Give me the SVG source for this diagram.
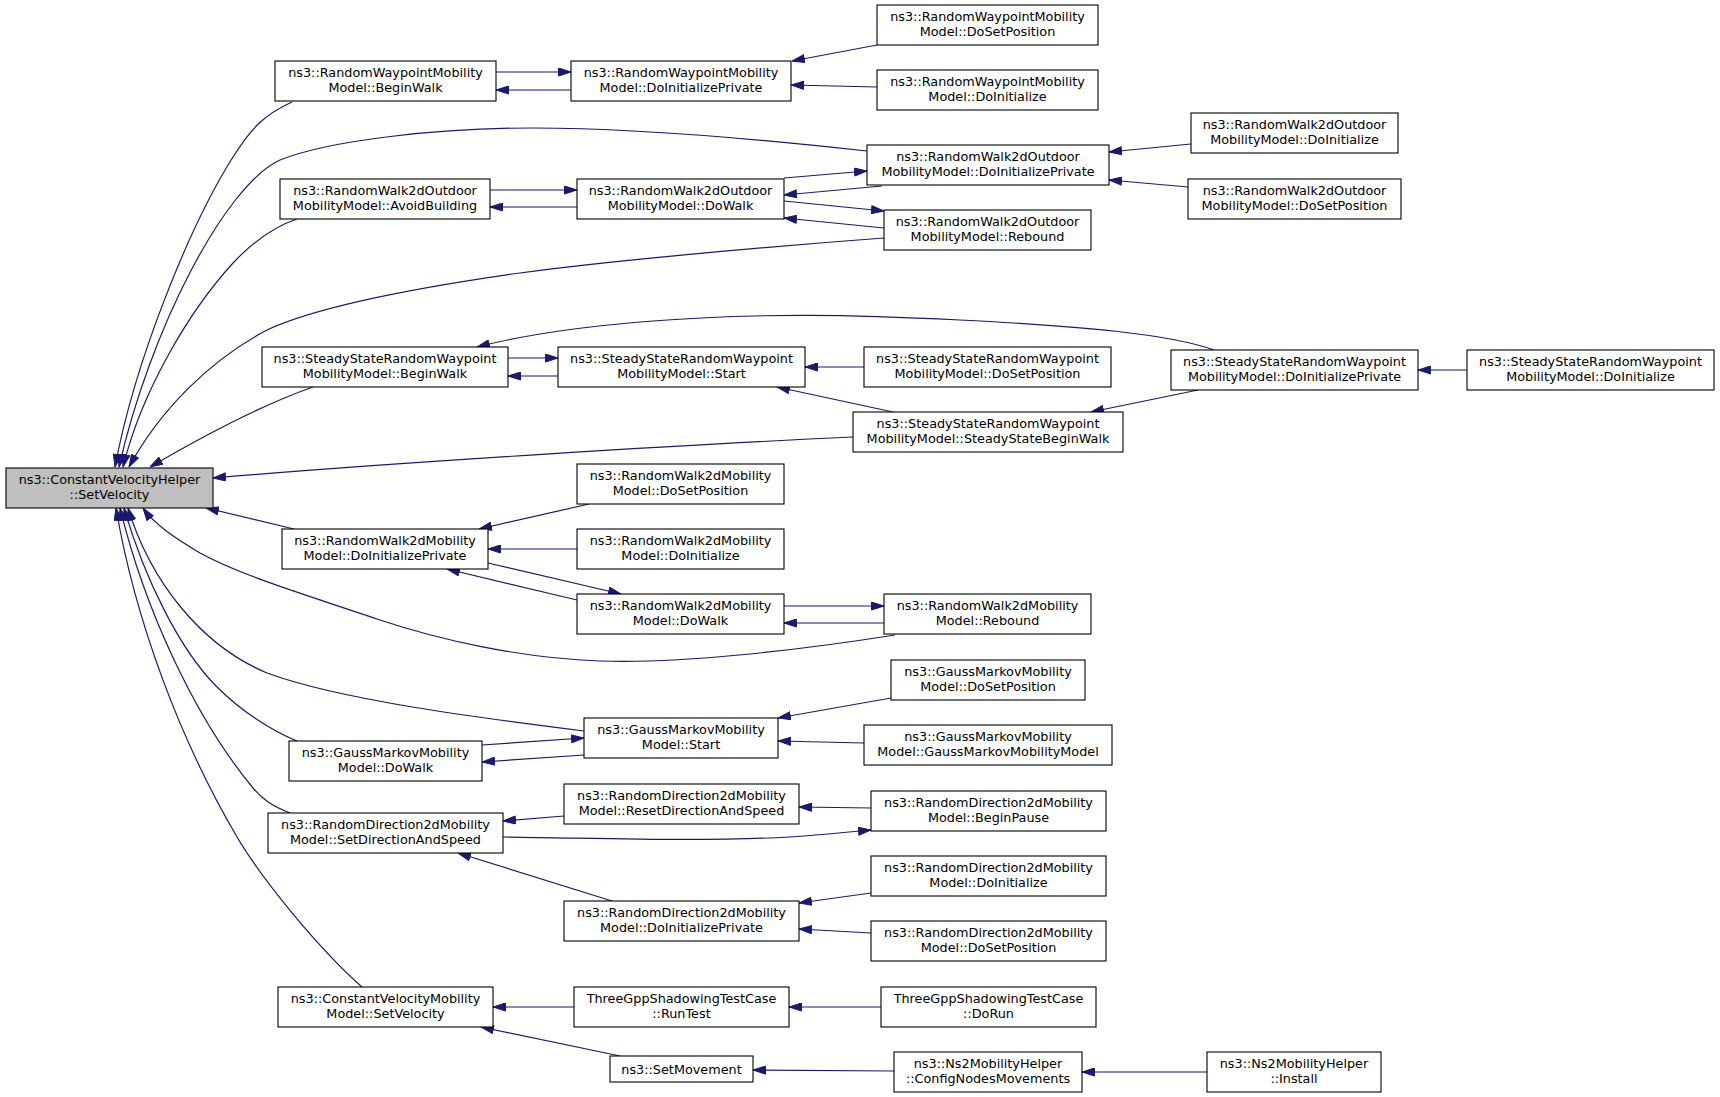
<svg xmlns="http://www.w3.org/2000/svg" width="1720" height="1097" viewBox="0 0 1720 1097">
<style>
.node rect{fill:#ffffff;stroke:#000000;stroke-width:1.1}
.node.main rect{fill:#bfbfbf}
.node text{font-family:"DejaVu Sans","Liberation Sans",sans-serif;font-size:12.8px;text-anchor:middle;fill:#000000}
.edges path{fill:none;stroke:#191970;stroke-width:1.2;marker-end:url(#ah)}
</style>
<defs>
<marker id="ah" viewBox="0 0 13 9" refX="13" refY="4.5" markerWidth="13" markerHeight="9" markerUnits="userSpaceOnUse" orient="auto"><path d="M0.5,0.5 L13,4.5 L0.5,8.5 z" fill="#191970" stroke="#191970" stroke-width="1"/></marker>
</defs>
<rect x="0" y="0" width="1720" height="1097" fill="#ffffff"/>
<g id="connectors" class="edges">
<path d="M292,102 C263,115 250,130 233,157 C190,225 135,360 115,467"/>
<path d="M867,151 C740,137 620,128 533,128 C440,128 330,140 280,160 C225,185 150,330 119,467"/>
<path d="M297,219 C270,228 250,245 233,263 C190,310 142,390 123,467"/>
<path d="M884,238 C750,248 600,262 520,273 C400,290 310,310 267,330 C210,360 160,410 129,467"/>
<path d="M313,387 C270,402 210,432 150,467"/>
<path d="M853,437 C700,444 400,462 213,478"/>
<path d="M294,529 L206,508"/>
<path d="M895,635 C800,650 680,664 600,661 C520,658 440,640 380,620 C300,593 240,575 200,553 C175,538 155,525 143,508"/>
<path d="M584,731 C480,718 340,700 267,673 C200,645 150,580 128,508"/>
<path d="M297,741 C270,730 240,710 217,687 C180,650 145,580 124,508"/>
<path d="M290,813 C272,806 262,799 253,788 C195,718 145,610 120,508"/>
<path d="M362,987 C320,950 263,881 237,837 C180,740 135,620 116,508"/>
<path d="M496,72 L571,72"/>
<path d="M571,90 L496,90"/>
<path d="M877,45 L792,61"/>
<path d="M877,87 L791,85"/>
<path d="M490,190 L577,190"/>
<path d="M577,207 L490,207"/>
<path d="M784,178 L867,171"/>
<path d="M882,186 L784,195"/>
<path d="M784,201 L884,211"/>
<path d="M884,228 L784,218"/>
<path d="M1191,144 L1109,152"/>
<path d="M1188,187 L1109,180"/>
<path d="M508,358 L558,358"/>
<path d="M558,376 L508,376"/>
<path d="M1214,350 C1170,334 1080,326 960,320 C860,315 760,312 640,322 C580,327 520,336 477,347"/>
<path d="M864,367 L805,367"/>
<path d="M893,412 L777,387"/>
<path d="M1198,390 L1091,412"/>
<path d="M1467,370 L1418,370"/>
<path d="M589,504 L479,529"/>
<path d="M577,549 L488,549"/>
<path d="M488,563 L621,594"/>
<path d="M577,600 L447,569"/>
<path d="M784,606 L884,606"/>
<path d="M884,623 L784,623"/>
<path d="M482,745 L584,738"/>
<path d="M584,755 L482,762"/>
<path d="M891,698 L778,718"/>
<path d="M864,743 L778,741"/>
<path d="M564,816 L503,821"/>
<path d="M503,837 C600,838 700,842 790,837 C820,835 850,832 871,830"/>
<path d="M871,808 L799,807"/>
<path d="M612,901 L458,853"/>
<path d="M871,893 L799,903"/>
<path d="M871,933 L799,929"/>
<path d="M574,1007 L493,1007"/>
<path d="M881,1007 L789,1007"/>
<path d="M620,1056 L481,1027"/>
<path d="M894,1071 L753,1070"/>
<path d="M1207,1072 L1082,1072"/>
</g>
<g id="n0" class="node main"><rect x="6" y="468" width="207" height="40"/><text x="109.5" y="484">ns3::ConstantVelocityHelper<tspan x="109.5" dy="15">::SetVelocity</tspan></text></g>
<g id="n1" class="node"><rect x="275" y="61" width="221" height="40"/><text x="385.5" y="77">ns3::RandomWaypointMobility<tspan x="385.5" dy="15">Model::BeginWalk</tspan></text></g>
<g id="n2" class="node"><rect x="571" y="61" width="220" height="40"/><text x="681" y="77">ns3::RandomWaypointMobility<tspan x="681" dy="15">Model::DoInitializePrivate</tspan></text></g>
<g id="n3" class="node"><rect x="877" y="5" width="221" height="40"/><text x="987.5" y="21">ns3::RandomWaypointMobility<tspan x="987.5" dy="15">Model::DoSetPosition</tspan></text></g>
<g id="n4" class="node"><rect x="877" y="70" width="221" height="40"/><text x="987.5" y="86">ns3::RandomWaypointMobility<tspan x="987.5" dy="15">Model::DoInitialize</tspan></text></g>
<g id="n5" class="node"><rect x="867" y="145" width="242" height="40"/><text x="988" y="161">ns3::RandomWalk2dOutdoor<tspan x="988" dy="15">MobilityModel::DoInitializePrivate</tspan></text></g>
<g id="n6" class="node"><rect x="577" y="179" width="207" height="40"/><text x="680.5" y="195">ns3::RandomWalk2dOutdoor<tspan x="680.5" dy="15">MobilityModel::DoWalk</tspan></text></g>
<g id="n7" class="node"><rect x="280" y="179" width="210" height="40"/><text x="385" y="195">ns3::RandomWalk2dOutdoor<tspan x="385" dy="15">MobilityModel::AvoidBuilding</tspan></text></g>
<g id="n8" class="node"><rect x="884" y="210" width="207" height="40"/><text x="987.5" y="226">ns3::RandomWalk2dOutdoor<tspan x="987.5" dy="15">MobilityModel::Rebound</tspan></text></g>
<g id="n9" class="node"><rect x="1191" y="113" width="207" height="40"/><text x="1294.5" y="129">ns3::RandomWalk2dOutdoor<tspan x="1294.5" dy="15">MobilityModel::DoInitialize</tspan></text></g>
<g id="n10" class="node"><rect x="1188" y="179" width="213" height="40"/><text x="1294.5" y="195">ns3::RandomWalk2dOutdoor<tspan x="1294.5" dy="15">MobilityModel::DoSetPosition</tspan></text></g>
<g id="n11" class="node"><rect x="262" y="347" width="246" height="40"/><text x="385" y="363">ns3::SteadyStateRandomWaypoint<tspan x="385" dy="15">MobilityModel::BeginWalk</tspan></text></g>
<g id="n12" class="node"><rect x="558" y="347" width="247" height="40"/><text x="681.5" y="363">ns3::SteadyStateRandomWaypoint<tspan x="681.5" dy="15">MobilityModel::Start</tspan></text></g>
<g id="n13" class="node"><rect x="864" y="347" width="247" height="40"/><text x="987.5" y="363">ns3::SteadyStateRandomWaypoint<tspan x="987.5" dy="15">MobilityModel::DoSetPosition</tspan></text></g>
<g id="n14" class="node"><rect x="1171" y="350" width="247" height="40"/><text x="1294.5" y="366">ns3::SteadyStateRandomWaypoint<tspan x="1294.5" dy="15">MobilityModel::DoInitializePrivate</tspan></text></g>
<g id="n15" class="node"><rect x="1467" y="350" width="247" height="40"/><text x="1590.5" y="366">ns3::SteadyStateRandomWaypoint<tspan x="1590.5" dy="15">MobilityModel::DoInitialize</tspan></text></g>
<g id="n16" class="node"><rect x="853" y="412" width="270" height="40"/><text x="988" y="428">ns3::SteadyStateRandomWaypoint<tspan x="988" dy="15">MobilityModel::SteadyStateBeginWalk</tspan></text></g>
<g id="n17" class="node"><rect x="282" y="529" width="206" height="40"/><text x="385" y="545">ns3::RandomWalk2dMobility<tspan x="385" dy="15">Model::DoInitializePrivate</tspan></text></g>
<g id="n18" class="node"><rect x="577" y="464" width="207" height="40"/><text x="680.5" y="480">ns3::RandomWalk2dMobility<tspan x="680.5" dy="15">Model::DoSetPosition</tspan></text></g>
<g id="n19" class="node"><rect x="577" y="529" width="207" height="40"/><text x="680.5" y="545">ns3::RandomWalk2dMobility<tspan x="680.5" dy="15">Model::DoInitialize</tspan></text></g>
<g id="n20" class="node"><rect x="577" y="594" width="207" height="40"/><text x="680.5" y="610">ns3::RandomWalk2dMobility<tspan x="680.5" dy="15">Model::DoWalk</tspan></text></g>
<g id="n21" class="node"><rect x="884" y="594" width="207" height="40"/><text x="987.5" y="610">ns3::RandomWalk2dMobility<tspan x="987.5" dy="15">Model::Rebound</tspan></text></g>
<g id="n22" class="node"><rect x="891" y="660" width="194" height="40"/><text x="988" y="676">ns3::GaussMarkovMobility<tspan x="988" dy="15">Model::DoSetPosition</tspan></text></g>
<g id="n23" class="node"><rect x="584" y="718" width="194" height="40"/><text x="681" y="734">ns3::GaussMarkovMobility<tspan x="681" dy="15">Model::Start</tspan></text></g>
<g id="n24" class="node"><rect x="864" y="725" width="248" height="40"/><text x="988" y="741">ns3::GaussMarkovMobility<tspan x="988" dy="15">Model::GaussMarkovMobilityModel</tspan></text></g>
<g id="n25" class="node"><rect x="289" y="741" width="193" height="40"/><text x="385.5" y="757">ns3::GaussMarkovMobility<tspan x="385.5" dy="15">Model::DoWalk</tspan></text></g>
<g id="n26" class="node"><rect x="268" y="813" width="235" height="40"/><text x="385.5" y="829">ns3::RandomDirection2dMobility<tspan x="385.5" dy="15">Model::SetDirectionAndSpeed</tspan></text></g>
<g id="n27" class="node"><rect x="564" y="784" width="235" height="40"/><text x="681.5" y="800">ns3::RandomDirection2dMobility<tspan x="681.5" dy="15">Model::ResetDirectionAndSpeed</tspan></text></g>
<g id="n28" class="node"><rect x="871" y="791" width="235" height="40"/><text x="988.5" y="807">ns3::RandomDirection2dMobility<tspan x="988.5" dy="15">Model::BeginPause</tspan></text></g>
<g id="n29" class="node"><rect x="871" y="856" width="235" height="40"/><text x="988.5" y="872">ns3::RandomDirection2dMobility<tspan x="988.5" dy="15">Model::DoInitialize</tspan></text></g>
<g id="n30" class="node"><rect x="564" y="901" width="235" height="40"/><text x="681.5" y="917">ns3::RandomDirection2dMobility<tspan x="681.5" dy="15">Model::DoInitializePrivate</tspan></text></g>
<g id="n31" class="node"><rect x="871" y="921" width="235" height="40"/><text x="988.5" y="937">ns3::RandomDirection2dMobility<tspan x="988.5" dy="15">Model::DoSetPosition</tspan></text></g>
<g id="n32" class="node"><rect x="278" y="987" width="215" height="40"/><text x="385.5" y="1003">ns3::ConstantVelocityMobility<tspan x="385.5" dy="15">Model::SetVelocity</tspan></text></g>
<g id="n33" class="node"><rect x="574" y="987" width="215" height="40"/><text x="681.5" y="1003">ThreeGppShadowingTestCase<tspan x="681.5" dy="15">::RunTest</tspan></text></g>
<g id="n34" class="node"><rect x="881" y="987" width="215" height="40"/><text x="988.5" y="1003">ThreeGppShadowingTestCase<tspan x="988.5" dy="15">::DoRun</tspan></text></g>
<g id="n35" class="node"><rect x="610" y="1056" width="143" height="26"/><text x="681.5" y="1073.5">ns3::SetMovement</text></g>
<g id="n36" class="node"><rect x="894" y="1052" width="188" height="40"/><text x="988" y="1068">ns3::Ns2MobilityHelper<tspan x="988" dy="15">::ConfigNodesMovements</tspan></text></g>
<g id="n37" class="node"><rect x="1207" y="1052" width="174" height="40"/><text x="1294" y="1068">ns3::Ns2MobilityHelper<tspan x="1294" dy="15">::Install</tspan></text></g>
</svg>
